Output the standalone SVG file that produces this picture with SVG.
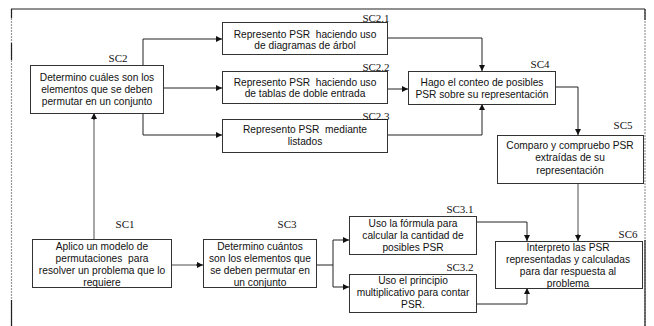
<svg xmlns="http://www.w3.org/2000/svg" width="654" height="326" viewBox="0 0 654 326">
<style>
.box{fill:#fff;stroke:#333;stroke-width:1}
.t{font-family:"Liberation Sans",Arial,sans-serif;font-size:10.2px;fill:#111;text-anchor:middle;white-space:pre}
.lb{font-family:"Liberation Serif","Times New Roman",serif;font-size:11px;fill:#111;text-anchor:middle}
.c{fill:none;stroke:#222;stroke-width:1}
.g{fill:none;stroke:#888;stroke-width:1.5}
</style>
<defs>
<marker id="ah" viewBox="0 0 10 10" refX="10" refY="5" markerWidth="7" markerHeight="6" markerUnits="userSpaceOnUse" orient="auto">
<path d="M0,0 L10,5 L0,10 z" fill="#111"/>
</marker>
</defs>
<rect width="654" height="326" fill="#fff"/>
<g id="frame">
<line x1="11" y1="9" x2="645" y2="9" stroke="#222" stroke-width="1.2"/>
<line x1="11.5" y1="9" x2="11.5" y2="326" stroke="#999" stroke-width="1.2" stroke-dasharray="2,1"/>
<line x1="11.5" y1="9" x2="11.5" y2="18" stroke="#222" stroke-width="1.2"/>
<line x1="11.5" y1="43" x2="11.5" y2="60" stroke="#222" stroke-width="1.2"/>
<line x1="11.5" y1="300" x2="11.5" y2="326" stroke="#222" stroke-width="1.2"/>
<line x1="645" y1="9" x2="645" y2="326" stroke="#999" stroke-width="1.2" stroke-dasharray="2,1"/>
<line x1="645" y1="9" x2="645" y2="20" stroke="#222" stroke-width="1.2"/>
<line x1="645" y1="240" x2="645" y2="326" stroke="#222" stroke-width="1.2"/>
</g>
<g id="connectors">
<path class="g" d="M94,239 V118"/>
<path class="c" d="M94,120 V113" marker-end="url(#ah)"/>
<path class="g" d="M172,265 H198"/>
<path class="c" d="M196,265 H203" marker-end="url(#ah)"/>
<path class="c" d="M143,65 V39 H222" marker-end="url(#ah)"/>
<path class="c" d="M163,88 H222" marker-end="url(#ah)"/>
<path class="c" d="M143,113 V135 H222" marker-end="url(#ah)"/>
<path class="c" d="M388,38 H482 V71" marker-end="url(#ah)"/>
<path class="c" d="M388,89 H408" marker-end="url(#ah)"/>
<path class="c" d="M388,135 H482 V104" marker-end="url(#ah)"/>
<path class="c" d="M555,87 H578 V135" marker-end="url(#ah)"/>
<path class="g" d="M578,184 V236"/>
<path class="c" d="M578,234 V241" marker-end="url(#ah)"/>
<path class="c" d="M317,265 H333"/>
<path class="c" d="M333,240 V287"/>
<path class="c" d="M333,240 H349" marker-end="url(#ah)"/>
<path class="c" d="M333,287 H349" marker-end="url(#ah)"/>
<path class="c" d="M477,222 H527 V241" marker-end="url(#ah)"/>
<path class="c" d="M477,304 H527 V288" marker-end="url(#ah)"/>
</g>
<g id="SC2">
<rect class="box" x="30.5" y="65.5" width="133" height="48"/>
<text class="lb" x="118" y="62">SC2</text>
<text class="t" x="97" y="81">Determino cuáles son los</text>
<text class="t" x="97" y="93">elementos que se deben</text>
<text class="t" x="97" y="104.5">permutar en un conjunto</text>
</g>
<g id="SC2.1">
<rect class="box" x="222.5" y="22.5" width="165" height="32"/>
<text class="lb" x="376" y="22">SC2.1</text>
<text class="t" x="305" y="37.5" xml:space="preserve">Represento PSR  haciendo uso</text>
<text class="t" x="305" y="49">de diagramas de árbol</text>
</g>
<g id="SC2.2">
<rect class="box" x="222.5" y="71.5" width="165" height="32"/>
<text class="lb" x="376" y="71">SC2.2</text>
<text class="t" x="305" y="85.5" xml:space="preserve">Represento PSR  haciendo uso</text>
<text class="t" x="305" y="97">de tablas de doble entrada</text>
</g>
<g id="SC2.3">
<rect class="box" x="222.5" y="119.5" width="165" height="33"/>
<text class="lb" x="376" y="120">SC2.3</text>
<text class="t" x="305" y="133" xml:space="preserve">Represento PSR  mediante</text>
<text class="t" x="305" y="145">listados</text>
</g>
<g id="SC4">
<rect class="box" x="408.5" y="71.5" width="147" height="33"/>
<text class="lb" x="540" y="68">SC4</text>
<text class="t" x="482" y="86">Hago el conteo de posibles</text>
<text class="t" x="482" y="97.5">PSR sobre su representación</text>
</g>
<g id="SC5">
<rect class="box" x="497.5" y="135.5" width="146" height="48"/>
<text class="lb" x="623" y="129">SC5</text>
<text class="t" x="570" y="149">Comparo y compruebo PSR</text>
<text class="t" x="570" y="161">extraídas de su</text>
<text class="t" x="570" y="174">representación</text>
</g>
<g id="SC1">
<rect class="box" x="32.5" y="239.5" width="139" height="48"/>
<text class="lb" x="125" y="228">SC1</text>
<text class="t" x="102" y="250">Aplico un modelo de</text>
<text class="t" x="102" y="262" xml:space="preserve">permutaciones  para</text>
<text class="t" x="102" y="274">resolver un problema que lo</text>
<text class="t" x="102" y="286">requiere</text>
</g>
<g id="SC3">
<rect class="box" x="203.5" y="239.5" width="113" height="48"/>
<text class="lb" x="287" y="228">SC3</text>
<text class="t" x="260" y="250">Determino cuántos</text>
<text class="t" x="260" y="262">son los elementos que</text>
<text class="t" x="260" y="274">se deben permutar en</text>
<text class="t" x="260" y="286">un conjunto</text>
</g>
<g id="SC3.1">
<rect class="box" x="349.5" y="216.5" width="127" height="38"/>
<text class="lb" x="460" y="213">SC3.1</text>
<text class="t" x="413" y="227">Uso la fórmula para</text>
<text class="t" x="413" y="239">calcular la cantidad de</text>
<text class="t" x="413" y="251">posibles PSR</text>
</g>
<g id="SC3.2">
<rect class="box" x="349.5" y="274.5" width="127" height="38"/>
<text class="lb" x="460" y="271">SC3.2</text>
<text class="t" x="413" y="284">Uso el principio</text>
<text class="t" x="413" y="296">multiplicativo para contar</text>
<text class="t" x="413" y="308">PSR.</text>
</g>
<g id="SC6">
<rect class="box" x="495.5" y="241.5" width="147" height="47"/>
<text class="lb" x="628" y="238">SC6</text>
<text class="t" x="568" y="251">Interpreto las PSR</text>
<text class="t" x="568" y="263">representadas y calculadas</text>
<text class="t" x="568" y="275">para dar respuesta al</text>
<text class="t" x="568" y="287">problema</text>
</g>
</svg>
